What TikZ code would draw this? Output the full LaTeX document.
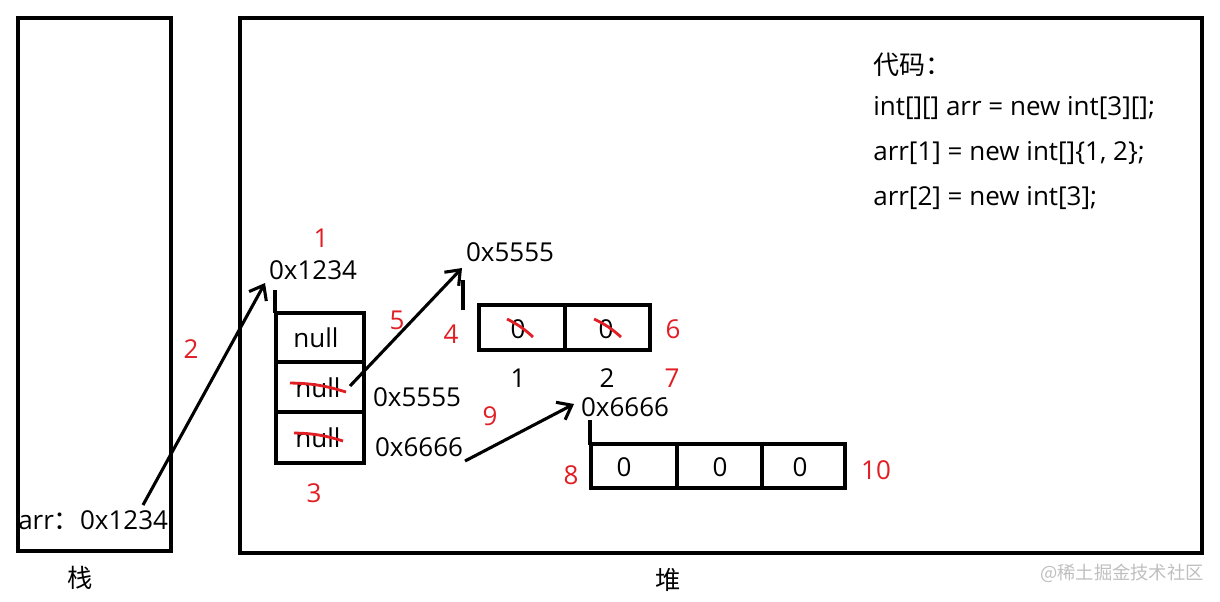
\documentclass[tikz,border=0pt]{standalone}
\usepackage{fontspec}
\setmainfont{Open Sans}
\newfontfamily\cjk{Noto Sans CJK SC}
\usetikzlibrary{arrows.meta}
\definecolor{rd}{RGB}{225,30,35}
\begin{document}
\begin{tikzpicture}[x=0.025cm,y=-0.025cm,
  box/.style={draw,line width=2.2pt},
  t/.style={font=\fontsize{18.5}{20}\selectfont,inner sep=0},
  r/.style={t,text=rd},
  arr/.style={line width=2.2pt,-{Straight Barb[length=9pt,width=14pt,line width=2.2pt]}},
  strike/.style={rd,line width=2pt},
  tick/.style={line width=2.2pt}]
\useasboundingbox (0,0) rectangle (1220,601);
\draw[box] (18,18) rectangle (171,551);
\draw[box] (240,18) rectangle (1202,553);
\node[t,font=\cjk\fontsize{18}{20}\selectfont] (ls) at (80,578) {栈};
\node[t,font=\cjk\fontsize{18}{20}\selectfont] (lh) at (668,580) {堆};
\node[t,anchor=west] (c0) at (873,65) {{\cjk 代码：}};
\node[t,anchor=west] (c1) at (873,108) {int[][] arr = new int[3][];};
\node[t,anchor=west] (c2) at (873,153) {arr[1] = new int[]\{1, 2\};};
\node[t,anchor=west] (c3) at (873,198) {arr[2] = new int[3];};
\node[t,anchor=west] (sv) at (18,520) {arr{\cjk ：}0x1234};
\node[r] (n2) at (191,349) {2};
\node[r] (n1) at (321,238) {1};
\node[t] (a1) at (313,270) {0x1234};
\coordinate (p1) at (143,505);
\coordinate (q1) at (265,283);
\draw[arr] (p1) -- (q1);
\draw[tick] (275,290) -- (275,313);
\draw[box] (276,313) rectangle (364,362);
\draw[box] (276,362) rectangle (364,412);
\draw[box] (276,412) rectangle (364,463);
\node[t] (k0) at (316,338) {null};
\node[t] (k1) at (318,388) {null};
\node[t] (k2) at (318,438) {null};
\draw[strike] (290,383) to[bend left=8] (346,392);
\draw[strike] (294,433) to[bend left=8] (343,441);
\node[r] (n3) at (314,493) {3};
\node[t] (v5) at (417,397) {0x5555};
\node[t] (v6) at (419,447) {0x6666};
\node[r] (n5) at (397,320) {5};
\coordinate (p2) at (350,386);
\coordinate (q2) at (462,268);
\draw[arr] (p2) -- (q2);
\node[t] (a2) at (510,252) {0x5555};
\draw[tick] (463,280) -- (463,310);
\node[r] (n4) at (451,334) {4};
\draw[box] (479,305) rectangle (565,350);
\draw[box] (565,305) rectangle (650,350);
\node[t] (z1) at (518,329) {0};
\node[t] (z2) at (606,329) {0};
\draw[strike] (507,319) to[bend left=8] (533,337);
\draw[strike] (594,319) to[bend left=8] (621,337);
\node[r] (n6) at (673,329) {6};
\node[t] (i1) at (518,378) {1};
\node[t] (i2) at (607,378) {2};
\node[r] (n7) at (672,378) {7};
\coordinate (p3) at (465,461);
\coordinate (q3) at (574,404);
\draw[arr] (p3) -- (q3);
\node[r] (n9) at (490,416) {9};
\node[t] (a3) at (625,407) {0x6666};
\draw[tick] (590,420) -- (590,445);
\node[r] (n8) at (571,475) {8};
\draw[box] (591,444) rectangle (677,488);
\draw[box] (677,444) rectangle (762,488);
\draw[box] (762,444) rectangle (845,488);
\node[t] (y1) at (624,467) {0};
\node[t] (y2) at (720,467) {0};
\node[t] (y3) at (800,467) {0};
\node[r] (n10) at (876,470) {10};
\node[inner sep=0,text=black!25,font=\cjk\fontsize{13}{14}\selectfont] (wm) at (1122,573) {@稀土掘金技术社区};
\end{tikzpicture}
\end{document}
